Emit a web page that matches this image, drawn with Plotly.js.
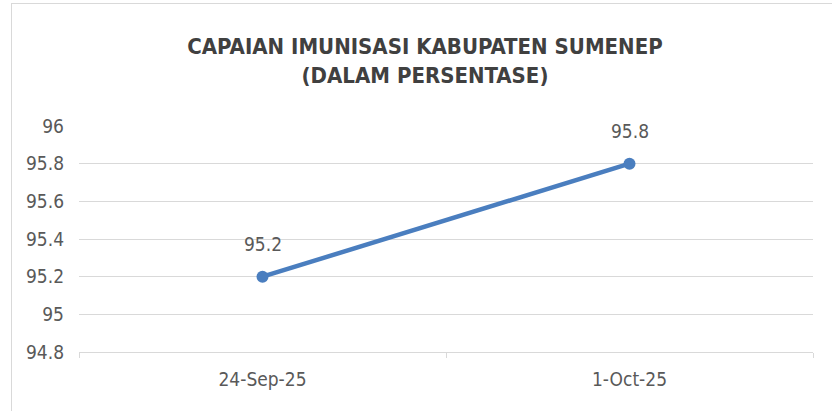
<!DOCTYPE html>
<html>
<head>
<meta charset="utf-8">
<script src="https://cdn.plot.ly/plotly-3.0.1.min.js"></script>
<style>
html,body{margin:0;padding:0;background:#fff;}
#wrap{position:relative;width:832px;height:411px;overflow:hidden;}
#chart{width:832px;height:411px;}
#frame{position:absolute;left:11px;top:3px;width:840px;height:430px;border:1px solid #d9d9d9;pointer-events:none;box-sizing:border-box;}
</style>
</head>
<body>
<div id="wrap"><div id="chart"></div><div id="frame"></div></div>
<script>
const categories = ["24-Sep-25", "1-Oct-25"];
const values = [95.2, 95.8];
const yTicks = [94.8, 95, 95.2, 95.4, 95.6, 95.8, 96];
const yTickLabels = ["94.8", "95", "95.2", "95.4", "95.6", "95.8", "96"];
const titleLines = ["CAPAIAN IMUNISASI KABUPATEN SUMENEP", "(DALAM PERSENTASE)"];

const font = "'Liberation Sans Narrow', 'DejaVu Sans Condensed', 'Liberation Sans', sans-serif";
const textColor = "#595959";

const trace = {
  x: categories,
  y: values,
  type: "scatter",
  mode: "lines+markers",
  line: {color: "#4a7ebf", width: 4.5},
  marker: {color: "#4a7ebf", size: 12},
  hoverinfo: "skip"
};

const annotations = categories.map((c, i) => ({
  x: c, y: values[i], xref: "x", yref: "y",
  text: String(values[i]), showarrow: false,
  yshift: 33, font: {family: font, size: 19, color: textColor}
}));

const layout = {
  width: 832, height: 411,
  margin: {l: 79, r: 19, t: 126, b: 59},
  paper_bgcolor: "#fff", plot_bgcolor: "#fff",
  showlegend: false,
  title: {
    text: "<b>" + titleLines.join("<br>") + "</b>",
    x: 425/832, xref: "container", xanchor: "center",
    y: 1 - 54/411, yref: "container", yanchor: "middle",
    font: {family: font, size: 22, color: "#404040"}
  },
  xaxis: {
    type: "category",
    range: [-0.5, 1.5],
    showgrid: false,
    showline: true, linecolor: "#d9d9d9", linewidth: 1,
    ticks: "outside", tickson: "boundaries", ticklen: 5, tickcolor: "#d9d9d9",
    tickfont: {family: font, size: 19, color: textColor},
    ticklabelstandoff: 10,
    fixedrange: true
  },
  yaxis: {
    range: [94.8, 96],
    tickvals: yTicks, ticktext: yTickLabels,
    showgrid: true, gridcolor: "#d9d9d9", gridwidth: 1,
    zeroline: false, showline: false, ticks: "",
    tickfont: {family: font, size: 19, color: textColor},
    ticklabelstandoff: 14,
    fixedrange: true
  },
  annotations: annotations
};

Plotly.newPlot("chart", [trace], layout, {displayModeBar: false, staticPlot: true});
</script>
</body>
</html>
